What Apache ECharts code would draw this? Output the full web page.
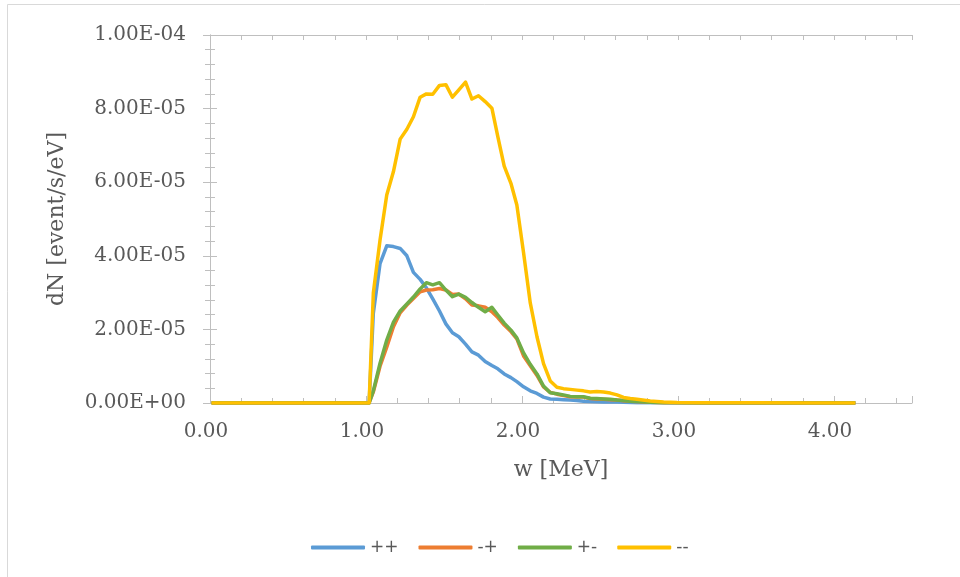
<!DOCTYPE html>
<html>
<head>
<meta charset="UTF-8">
<title>dN spectrum</title>
<script type="text/javascript" src="https://cdn.jsdelivr.net/npm/echarts@6.0.0/dist/echarts.min.js"></script>
<style>
  body{margin:0;background:#fff}
</style>
</head>
<body>
<div id="main" style="width:960px;height:577px"></div>
<script type="text/javascript">
// w [MeV]
var w = [0.01, 1.00, 1.02, 1.047, 1.090, 1.133, 1.176, 1.219, 1.262, 1.304, 1.347, 1.387, 1.428,
  1.471, 1.512, 1.554, 1.595, 1.638, 1.679, 1.721, 1.764, 1.807, 1.845, 1.886, 1.929, 1.967,
  2.010, 2.053, 2.096, 2.138, 2.181, 2.224, 2.266, 2.309, 2.352, 2.394, 2.437, 2.480, 2.523,
  2.566, 2.609, 2.651, 2.694, 2.737, 2.822, 2.908, 2.994, 3.164, 3.507, 3.806, 4.137];

// dN [event/s/eV]
var pp = [0, 0, 0, 2.44e-5, 3.79e-5, 4.27e-5, 4.25e-5, 4.20e-5, 4.00e-5, 3.55e-5, 3.36e-5, 3.13e-5, 2.83e-5,
  2.50e-5, 2.15e-5, 1.91e-5, 1.80e-5, 1.60e-5, 1.39e-5, 1.30e-5, 1.13e-5, 1.02e-5, 0.93e-5, 0.79e-5, 0.69e-5, 0.58e-5,
  0.44e-5, 0.33e-5, 0.26e-5, 0.16e-5, 0.11e-5, 0.10e-5, 0.09e-5, 0.08e-5, 0.07e-5, 0.05e-5, 0.04e-5, 0.035e-5, 0.03e-5,
  0.03e-5, 0.025e-5, 0.02e-5, 0.015e-5, 0.01e-5, 0.01e-5, 0.005e-5, 0, 0, 0, 0, 0];
var mp = [0, 0, 0, 0.30e-5, 1.00e-5, 1.52e-5, 2.07e-5, 2.45e-5, 2.66e-5, 2.84e-5, 3.02e-5, 3.07e-5, 3.08e-5,
  3.11e-5, 3.07e-5, 2.95e-5, 2.96e-5, 2.83e-5, 2.66e-5, 2.64e-5, 2.60e-5, 2.48e-5, 2.32e-5, 2.12e-5, 1.94e-5, 1.74e-5,
  1.28e-5, 1.01e-5, 0.75e-5, 0.44e-5, 0.29e-5, 0.24e-5, 0.20e-5, 0.17e-5, 0.16e-5, 0.16e-5, 0.12e-5, 0.11e-5, 0.10e-5,
  0.09e-5, 0.08e-5, 0.06e-5, 0.05e-5, 0.04e-5, 0.02e-5, 0.01e-5, 0.005e-5, 0, 0, 0, 0];
var pm = [0, 0, 0, 0.33e-5, 1.08e-5, 1.71e-5, 2.20e-5, 2.50e-5, 2.69e-5, 2.88e-5, 3.10e-5, 3.27e-5, 3.21e-5,
  3.27e-5, 3.07e-5, 2.89e-5, 2.96e-5, 2.87e-5, 2.73e-5, 2.60e-5, 2.48e-5, 2.60e-5, 2.39e-5, 2.17e-5, 1.98e-5, 1.77e-5,
  1.36e-5, 1.05e-5, 0.79e-5, 0.46e-5, 0.28e-5, 0.25e-5, 0.22e-5, 0.18e-5, 0.17e-5, 0.17e-5, 0.13e-5, 0.12e-5, 0.11e-5,
  0.10e-5, 0.08e-5, 0.07e-5, 0.05e-5, 0.04e-5, 0.02e-5, 0.01e-5, 0.005e-5, 0, 0, 0, 0];
var mm = [0, 0, 0, 2.99e-5, 4.43e-5, 5.65e-5, 6.29e-5, 7.17e-5, 7.44e-5, 7.78e-5, 8.31e-5, 8.40e-5, 8.39e-5,
  8.63e-5, 8.65e-5, 8.31e-5, 8.51e-5, 8.72e-5, 8.26e-5, 8.35e-5, 8.19e-5, 8.01e-5, 7.24e-5, 6.44e-5, 5.97e-5, 5.38e-5,
  4.08e-5, 2.72e-5, 1.80e-5, 1.07e-5, 0.60e-5, 0.43e-5, 0.39e-5, 0.37e-5, 0.35e-5, 0.33e-5, 0.30e-5, 0.31e-5, 0.30e-5,
  0.27e-5, 0.22e-5, 0.15e-5, 0.12e-5, 0.10e-5, 0.055e-5, 0.03e-5, 0.015e-5, 0.008e-5, 0.005e-5, 0, 0];

var names = ['++', '-+', '+-', '--'];
var colors = ['#5B9BD5', '#ED7D31', '#70AD47', '#FFC000'];
var values = [pp, mp, pm, mm];

var gray = '#595959';
var frame = '#BFBFBF';
var serif = 'DejaVu Serif';

function sci(v) {
  if (v === 0) return '0.00E+00';
  var parts = v.toExponential(2).split('e');
  var n = parseInt(parts[1], 10);
  return parts[0] + 'E' + (n < 0 ? '-' : '+') + String(Math.abs(n)).padStart(2, '0');
}

var myEcharts = echarts.init(document.getElementById('main'));

var option = {
  backgroundColor: '#fff',
  animation: false,
  graphic: [{
    type: 'rect',
    shape: {x: 7.5, y: 4.5, width: 1000, height: 1000},
    style: {fill: 'none', stroke: '#D9D9D9', lineWidth: 1},
    silent: true
  }],
  grid: {left: 210, right: 48, top: 35, bottom: 174},
  legend: {
    data: names.map(function (n) { return {name: n, icon: 'roundRect'}; }),
    left: 306,
    top: 534,
    itemWidth: 54,
    itemHeight: 4,
    itemGap: 20,
    textStyle: {fontFamily: 'DejaVu Sans', fontSize: 17, color: gray}
  },
  xAxis: [{
    type: 'value',
    position: 'bottom',
    min: 0,
    max: 4.5,
    interval: 0.2,
    name: 'w [MeV]',
    nameLocation: 'middle',
    nameGap: 56,
    nameTextStyle: {fontFamily: serif, fontSize: 22, color: gray},
    splitLine: {show: false},
    axisLine: {lineStyle: {color: frame, width: 1}},
    axisTick: {inside: true, length: 5, lineStyle: {color: frame}},
    axisLabel: {
      margin: 19,
      padding: [0, 8, 0, 0],
      fontFamily: serif,
      fontSize: 20,
      color: gray,
      formatter: function (v) {
        return (Math.abs(v - Math.round(v)) < 1e-6 && v < 4.45) ? v.toFixed(2) : '';
      }
    }
  }, {
    // longer ticks at the whole numbers
    type: 'value',
    position: 'bottom',
    min: 0,
    max: 4.5,
    interval: 1,
    splitLine: {show: false},
    axisLine: {show: false},
    axisTick: {inside: true, length: 7, lineStyle: {color: frame}},
    axisLabel: {show: false}
  }, {
    type: 'value',
    position: 'top',
    min: 0,
    max: 4.5,
    interval: 0.2,
    splitLine: {show: false},
    axisLine: {show: true, lineStyle: {color: frame, width: 1}},
    axisTick: {inside: true, length: 5, lineStyle: {color: frame}},
    axisLabel: {show: false}
  }],
  yAxis: [{
    type: 'value',
    position: 'left',
    min: 0,
    max: 1e-4,
    interval: 2e-5,
    name: 'dN [event/s/eV]',
    nameLocation: 'middle',
    nameRotate: 90,
    nameGap: 142,
    nameTextStyle: {fontFamily: serif, fontSize: 22, color: gray},
    splitLine: {show: false},
    axisLine: {show: true, lineStyle: {color: frame, width: 1}},
    axisTick: {show: true, inside: true, length: 7, lineStyle: {color: frame}},
    minorTick: {show: true, splitNumber: 5, length: 5, lineStyle: {color: frame}},
    axisLabel: {margin: 24, fontFamily: serif, fontSize: 20, color: gray, formatter: sci}
  }, {
    type: 'value',
    position: 'right',
    min: 0,
    max: 1e-4,
    interval: 2e-5,
    splitLine: {show: false},
    axisLine: {show: true, lineStyle: {color: frame, width: 1}},
    axisTick: {show: true, inside: true, length: 7, lineStyle: {color: frame}},
    minorTick: {show: true, splitNumber: 5, length: 5, lineStyle: {color: frame}},
    axisLabel: {show: false}
  }],
  series: names.map(function (name, k) {
    return {
      name: name,
      type: 'line',
      xAxisIndex: 0,
      yAxisIndex: 0,
      symbol: 'none',
      color: colors[k],
      lineStyle: {width: 3.5, color: colors[k], join: 'round'},
      data: w.map(function (x, i) { return [x, values[k][i]]; })
    };
  })
};

myEcharts.setOption(option);
</script>
</body>
</html>
